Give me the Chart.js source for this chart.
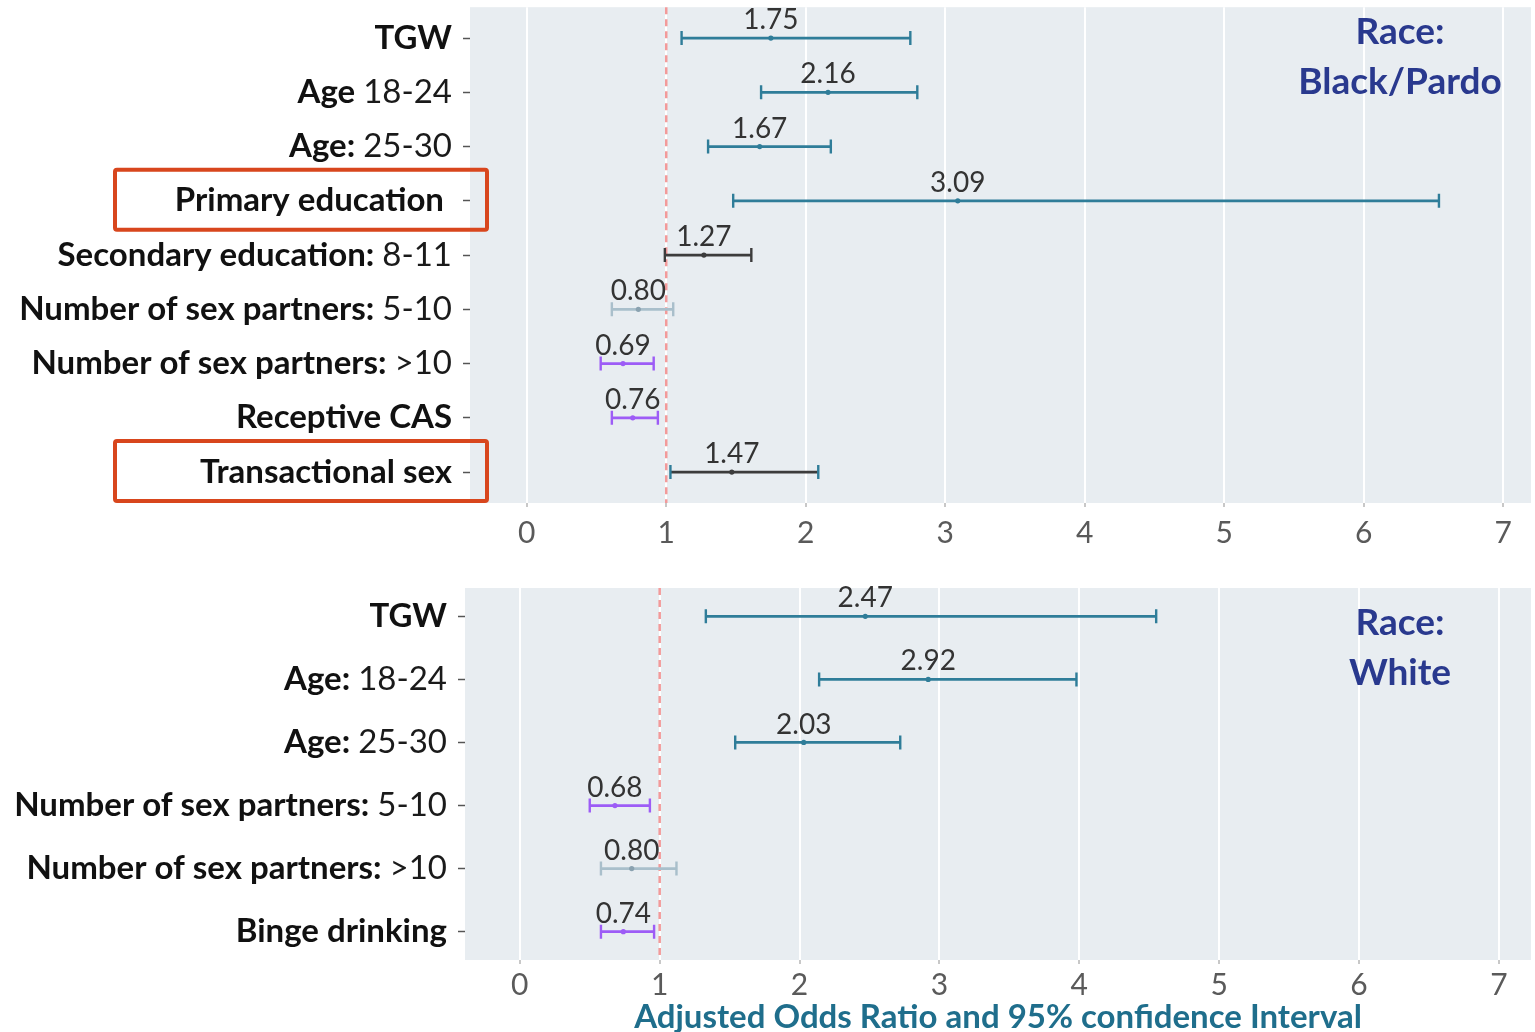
<!DOCTYPE html>
<html><head><meta charset="utf-8">
<script src="https://cdn.jsdelivr.net/npm/chart.js@4.4.1/dist/chart.umd.min.js"></script>
<style>
html,body{margin:0;padding:0;background:#fff;width:1535px;height:1032px;overflow:hidden}
#w1{position:absolute;left:0;top:0;width:1535px;height:575px}
#w2{position:absolute;left:0;top:575px;width:1535px;height:457px}
</style></head><body>
<div id="w1"><canvas id="c1"></canvas></div>
<div id="w2"><canvas id="c2"></canvas></div>
<script>
// ---------- data ----------
const topCategories = ['TGW','Age 18-24','Age: 25-30','Primary education ','Secondary education: 8-11','Number of sex partners: 5-10','Number of sex partners: >10','Receptive CAS','Transactional sex'];
const topOR    = [1.75, 2.16, 1.67, 3.09, 1.27, 0.80, 0.69, 0.76, 1.47];
const topLower = [1.11, 1.68, 1.30, 1.48, 0.99, 0.61, 0.53, 0.61, 1.03];
const topUpper = [2.75, 2.80, 2.18, 6.54, 1.61, 1.05, 0.91, 0.94, 2.09];
const topTitle = ['Race:', 'Black/Pardo'];

const bottomCategories = ['TGW','Age: 18-24','Age: 25-30','Number of sex partners: 5-10','Number of sex partners: >10','Binge drinking'];
const bottomOR    = [2.47, 2.92, 2.03, 0.68, 0.80, 0.74];
const bottomLower = [1.33, 2.14, 1.54, 0.50, 0.58, 0.58];
const bottomUpper = [4.55, 3.98, 2.72, 0.93, 1.12, 0.96];
const bottomTitle = ['Race:', 'White'];

const xTickValues = [0,1,2,3,4,5,6,7];
const referenceValue = 1;
const xAxisTitle = 'Adjusted Odds Ratio and 95% confidence Interval';
const highlightedTop = ['Primary education ', 'Transactional sex'];

// ---------- styles ----------
const TEAL = '#2f7d99', DARK = '#3c3c3c', GREY = '#a9bfcb', PURPLE = '#9d5cf6';
const topLineColors = [TEAL,TEAL,TEAL,TEAL,DARK,GREY,PURPLE,PURPLE,DARK];
const topCapColors  = [TEAL,TEAL,TEAL,TEAL,DARK,GREY,PURPLE,PURPLE,TEAL];
const bottomLineColors = [TEAL,TEAL,TEAL,PURPLE,GREY,PURPLE];
const bottomCapColors  = [TEAL,TEAL,TEAL,PURPLE,GREY,PURPLE];
const FONT = 'Lato, Carlito, "Open Sans", sans-serif';

function makeChart(canvasId, cfg) {
  const n = cfg.cats.length;
  const plugins = [{
    id: 'bg',
    beforeDraw(chart) {
      const {ctx, chartArea: a} = chart;
      ctx.save(); ctx.fillStyle = '#e8edf1';
      ctx.fillRect(a.left, a.top, a.right - a.left, a.bottom - a.top);
      ctx.restore();
    }
  }, {
    id: 'bars',
    beforeDatasetsDraw(chart) {
      const {ctx, chartArea: a, scales: {x, y}} = chart;
      ctx.save();
      const rx = x.getPixelForValue(referenceValue);
      ctx.strokeStyle = '#f39a9a'; ctx.lineWidth = 2.5; ctx.setLineDash([7,5]);
      ctx.beginPath(); ctx.moveTo(rx, a.top); ctx.lineTo(rx, a.bottom); ctx.stroke();
      ctx.setLineDash([]);
      cfg.cats.forEach((c, i) => {
        const py = y.getPixelForValue(i);
        const x1 = x.getPixelForValue(cfg.lo[i]), x2 = x.getPixelForValue(cfg.hi[i]);
        ctx.strokeStyle = cfg.lineColors[i]; ctx.lineWidth = 2.8;
        ctx.beginPath(); ctx.moveTo(x1, py); ctx.lineTo(x2, py); ctx.stroke();
        ctx.strokeStyle = cfg.capColors[i]; ctx.lineWidth = 2.4;
        ctx.beginPath();
        ctx.moveTo(x1, py - 7); ctx.lineTo(x1, py + 7);
        ctx.moveTo(x2, py - 7); ctx.lineTo(x2, py + 7);
        ctx.stroke();
      });
      ctx.restore();
    },
    afterDatasetsDraw(chart) {
      const {ctx, scales: {x, y}} = chart;
      ctx.save();
      ctx.font = '400 28px ' + FONT; ctx.fillStyle = '#333';
      ctx.textAlign = 'center'; ctx.textBaseline = 'middle';
      cfg.or.forEach((v, i) => {
        ctx.fillText(v.toFixed(2), x.getPixelForValue(v), y.getPixelForValue(i) - 18);
      });
      ctx.restore();
    }
  }, {
    id: 'labels',
    afterDraw(chart) {
      const {ctx, chartArea: a, scales: {y}} = chart;
      ctx.save();
      ctx.textAlign = 'right'; ctx.textBaseline = 'middle';
      const xr = a.left - 18;
      cfg.cats.forEach((c, i) => {
        const m = c.search(/[0-9>]/);
        const b = m < 0 ? c : c.slice(0, m);
        const r = m < 0 ? '' : c.slice(m);
        const py = y.getPixelForValue(i);
        ctx.font = '400 33px ' + FONT; ctx.fillStyle = '#1a1a1a';
        const rw = ctx.measureText(r).width;
        if (r) ctx.fillText(r, xr, py);
        ctx.font = '700 33px ' + FONT; ctx.fillStyle = '#111';
        ctx.fillText(b, xr - rw, py);
        if (cfg.highlight && cfg.highlight.includes(c)) {
          ctx.strokeStyle = '#d8461d'; ctx.lineWidth = 4;
          ctx.beginPath();
          ctx.roundRect(115, py - 31, a.left + 17 - 115, 60, 2);
          ctx.stroke();
        }
      });
      ctx.textAlign = 'center';
      ctx.font = '700 37px ' + FONT; ctx.fillStyle = '#29398e';
      ctx.fillText(cfg.title[0], a.right - 131, a.top + cfg.titleY);
      ctx.fillText(cfg.title[1], a.right - 131, a.top + cfg.titleY + 50);
      ctx.restore();
    }
  }];

  return new Chart(document.getElementById(canvasId), {
    type: 'scatter',
    data: {
      datasets: [{
        data: cfg.or.map((v, i) => ({x: v, y: i})),
        pointRadius: 2.6,
        pointBorderWidth: 0,
        pointBackgroundColor: cfg.lineColors.map(c => c === GREY ? '#8aa2b0' : c),
        showLine: false
      }]
    },
    options: {
      responsive: true, maintainAspectRatio: false, animation: false,
      layout: {padding: {left: 0, right: 0, top: cfg.padTop, bottom: 0}},
      plugins: {legend: {display: false}, tooltip: {enabled: false}},
      scales: {
        x: {
          type: 'linear', min: cfg.xmin, max: cfg.xmax,
          ticks: {includeBounds: false, stepSize: 1, color: '#5a5a5a', font: {size: 30, family: FONT}, padding: cfg.tickPad},
          afterBuildTicks: s => { s.ticks = xTickValues.map(v => ({value: v})); },
          grid: {color: '#ffffff', lineWidth: 2, drawTicks: true, tickLength: 4, tickColor: '#c8c8c8', tickWidth: 2},
          border: {display: false},
          title: cfg.showTitle ? {display: true, text: xAxisTitle, color: '#1f6e8c', font: {size: 33, weight: '700', family: FONT, lineHeight: 1.0}, padding: {top: 0, bottom: -2}} : {display: false},
          afterFit: s => { s.height = cfg.xHeight; }
        },
        y: {
          type: 'linear', reverse: true, min: cfg.ymin, max: n - 1 + cfg.ymax,
          afterBuildTicks: s => { s.ticks = cfg.cats.map((c, i) => ({value: i})); },
          ticks: {callback: () => '', padding: 0},
          grid: {drawOnChartArea: false, drawTicks: true, tickLength: 7, tickColor: '#555', tickWidth: 1.5},
          border: {display: false},
          afterFit: s => { s.width = cfg.leftW; }
        }
      }
    },
    plugins
  });
}

function build() {
  makeChart('c1', {
    cats: topCategories, or: topOR, lo: topLower, hi: topUpper,
    lineColors: topLineColors, capColors: topCapColors, title: topTitle, highlight: highlightedTop, titleY: 25,
    xmin: -0.407, xmax: 7.2, ymin: -0.57, ymax: 0.57, padTop: 5, xHeight: 72, leftW: 470, tickPad: 8, showTitle: false
  });
  makeChart('c2', {
    cats: bottomCategories, or: bottomOR, lo: bottomLower, hi: bottomUpper,
    lineColors: bottomLineColors, capColors: bottomCapColors, title: bottomTitle, highlight: null, titleY: 35,
    xmin: -0.392, xmax: 7.23, ymin: -0.45, ymax: 0.45, padTop: 13, xHeight: 72, leftW: 465, tickPad: 3, showTitle: true
  });
}
Promise.all([
  document.fonts.load('700 33px Lato'),
  document.fonts.load('400 33px Lato')
]).then(build, build);
</script>
</body></html>
